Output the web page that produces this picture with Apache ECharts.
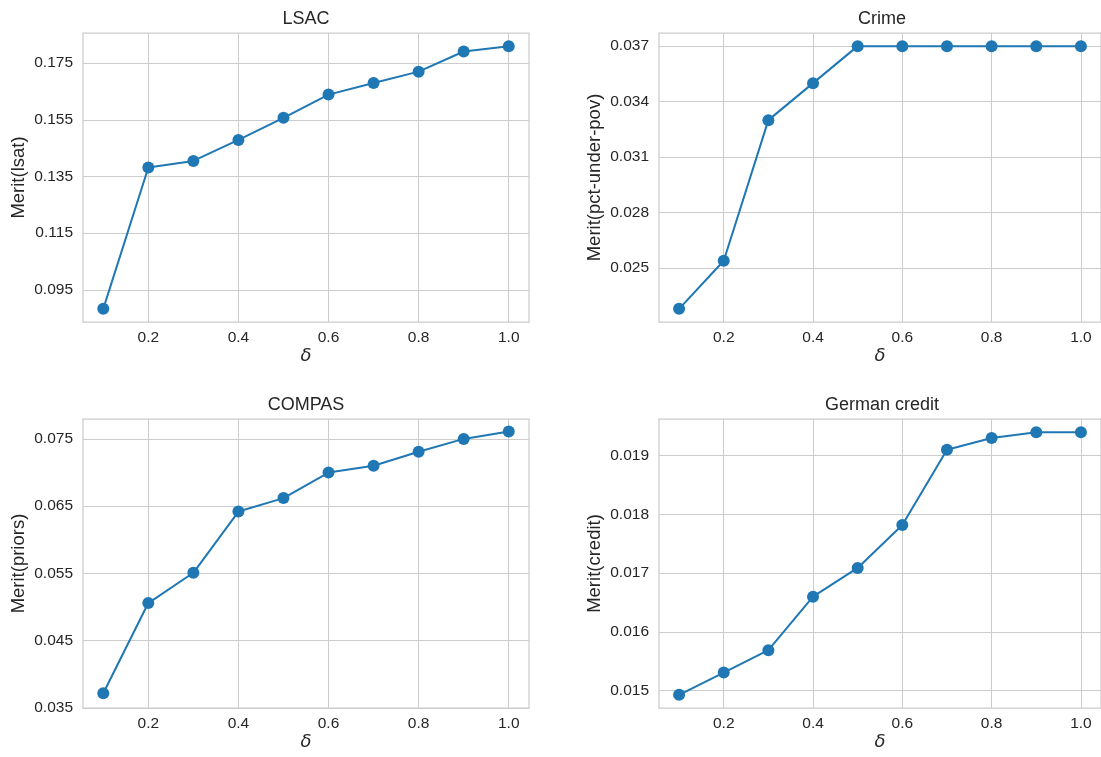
<!DOCTYPE html>
<html>
<head>
<meta charset="utf-8">
<script src="https://cdn.jsdelivr.net/npm/echarts@6/dist/echarts.min.js"></script>
<style>
html,body{margin:0;padding:0;background:#fff;}
#chart{width:1101px;height:757px;}
</style>
</head>
<body>
<div id="chart"></div>
<script>
// ---- data ----
const deltas = [0.1, 0.2, 0.3, 0.4, 0.5, 0.6, 0.7, 0.8, 0.9, 1.0];
const lsacMerit = [0.0883, 0.1382, 0.1405, 0.1479, 0.1557, 0.1639, 0.1680, 0.1720, 0.1791, 0.1810];
const crimeMerit = [0.0228, 0.0254, 0.0330, 0.0350, 0.0370, 0.0370, 0.0370, 0.0370, 0.0370, 0.0370];
const compasMerit = [0.0372, 0.0506, 0.0551, 0.0642, 0.0662, 0.0700, 0.0710, 0.0731, 0.0750, 0.0761];
const germanMerit = [0.01493, 0.01531, 0.01569, 0.01660, 0.01709, 0.01782, 0.01910, 0.01930, 0.01940, 0.01940];

const xTicks = [0.2, 0.4, 0.6, 0.8, 1.0];
const lsacTicks = [0.095, 0.115, 0.135, 0.155, 0.175];
const crimeTicks = [0.025, 0.028, 0.031, 0.034, 0.037];
const compasTicks = [0.035, 0.045, 0.055, 0.065, 0.075];
const germanTicks = [0.015, 0.016, 0.017, 0.018, 0.019];

const titles = ['LSAC', 'Crime', 'COMPAS', 'German credit'];
const yNames = ['Merit(lsat)', 'Merit(pct-under-pov)', 'Merit(priors)', 'Merit(credit)'];

// ---- layout / style ----
const TXT = '#262626';
const GRID = '#cccccc';
const BLUE = '#1f77b4';
const FONT = '"Liberation Sans", Arial, sans-serif';
const panels = [
  {left: 83, top: 33},
  {left: 659, top: 33},
  {left: 83, top: 419},
  {left: 659, top: 419}
];
const PW = 446, PH = 289;

function pad(vals) {
  const lo = Math.min(...vals), hi = Math.max(...vals), m = (hi - lo) * 0.05;
  return [lo - m, hi + m];
}
const xRange = pad(deltas);
const yRanges = [pad(lsacMerit), pad(crimeMerit), [0.035, 0.07796], pad(germanMerit)];
const series = [lsacMerit, crimeMerit, compasMerit, germanMerit];
const yTicks = [lsacTicks, crimeTicks, compasTicks, germanTicks];

const option = {
  animation: false,
  backgroundColor: '#ffffff',
  title: panels.map((p, i) => ({
    text: titles[i],
    left: p.left + PW / 2,
    top: p.top - 23,
    textAlign: 'center',
    padding: 0,
    textStyle: {color: TXT, fontSize: 18, fontWeight: 'normal', fontFamily: FONT}
  })),
  grid: panels.map(p => ({
    left: p.left, top: p.top, width: PW, height: PH,
    show: true, borderColor: GRID, borderWidth: 1.25, backgroundColor: 'transparent',
    containLabel: false
  })),
  xAxis: panels.map((p, i) => ({
    type: 'value', gridIndex: i,
    min: xRange[0], max: xRange[1],
    name: 'δ', nameLocation: 'middle', nameGap: 25,
    nameTextStyle: {color: TXT, fontSize: 18, fontStyle: 'italic', fontFamily: '"DejaVu Sans", sans-serif'},
    axisLine: {show: false},
    axisTick: {show: false, customValues: xTicks},
    axisLabel: {customValues: xTicks, color: TXT, fontSize: 15.5, fontFamily: FONT, margin: 8,
      formatter: v => v.toFixed(1)},
    splitLine: {show: true, lineStyle: {color: GRID, width: 1}}
  })),
  yAxis: panels.map((p, i) => ({
    type: 'value', gridIndex: i,
    min: yRanges[i][0], max: yRanges[i][1],
    name: yNames[i], nameLocation: 'middle', nameGap: 55,
    nameTextStyle: {color: TXT, fontSize: 18.5, fontFamily: FONT},
    axisLine: {show: false},
    axisTick: {show: false, customValues: yTicks[i]},
    axisLabel: {customValues: yTicks[i], color: TXT, fontSize: 15.5, fontFamily: FONT, margin: 10,
      formatter: v => v.toFixed(3)},
    splitLine: {show: true, lineStyle: {color: GRID, width: 1}}
  })),
  series: series.map((vals, i) => ({
    type: 'line', xAxisIndex: i, yAxisIndex: i,
    data: deltas.map((d, j) => [d, vals[j]]),
    symbol: 'circle', symbolSize: 12,
    lineStyle: {color: BLUE, width: 2},
    itemStyle: {color: BLUE},
    clip: false
  }))
};

const chart = echarts.init(document.getElementById('chart'), null, {renderer: 'canvas'});
chart.setOption(option);
</script>
</body>
</html>
